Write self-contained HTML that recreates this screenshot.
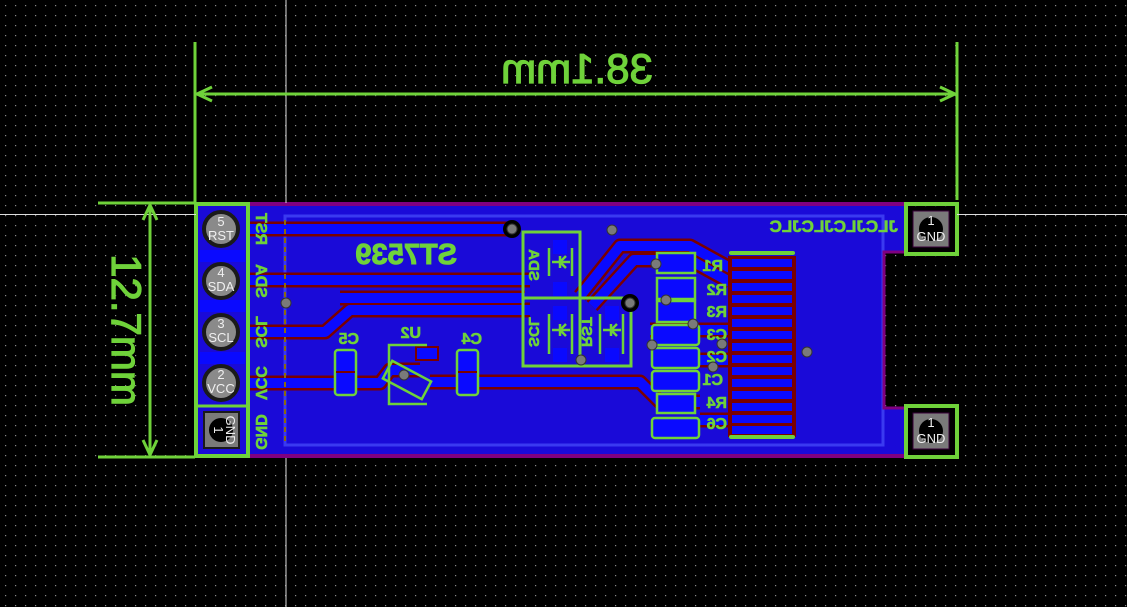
<!DOCTYPE html>
<html><head><meta charset="utf-8"><style>
html,body{margin:0;padding:0;background:#000;width:1127px;height:607px;overflow:hidden}
svg{display:block}
text{font-family:"Liberation Sans","DejaVu Sans",sans-serif}
</style></head><body>
<svg width="1127" height="607" viewBox="0 0 1127 607" xmlns="http://www.w3.org/2000/svg">
<defs>
<pattern id="g" width="10" height="10" patternUnits="userSpaceOnUse"><rect x="5" y="5" width="1.2" height="1.2" fill="#8a8a8a"/></pattern>
</defs>
<rect width="1127" height="607" fill="#000"/>
<rect width="1127" height="607" fill="url(#g)"/>

<!-- board pour -->
<rect x="196" y="206" width="710" height="248" fill="#1a0ad8"/>
<rect x="884" y="252" width="22" height="156" fill="#000"/>
<rect x="884" y="252" width="22" height="156" fill="url(#g)"/>
<rect x="285" y="216" width="598" height="229" fill="none" stroke="#3a3af0" stroke-width="3"/>
<line x1="884" y1="253" x2="884" y2="407" stroke="#8a5a10" stroke-width="3"/>
<path d="M905 252 H884 V408 H905" fill="none" stroke="#800080" stroke-width="3"/>
<line x1="248" y1="204" x2="906" y2="204" stroke="#800080" stroke-width="4"/>
<line x1="248" y1="456" x2="906" y2="456" stroke="#800080" stroke-width="4"/>

<!-- traces -->
<g fill="none" stroke-linejoin="round">
<g stroke="#7a0000" stroke-width="15">
<path d="M248 229 H512"/>
<path d="M248 280 H530"/>
<path d="M248 332 H325 L350 310 H530"/>
<path d="M340 298 H525"/>
<path d="M248 383 H380 L390 370 H420"/>
<path d="M430 382 H640 L660 402 H700"/>
<path d="M580 296 L620 246 H690 L730 268"/>
<path d="M592 306 L634 260 H690 L730 282"/>
<path d="M650 330 H730"/>
<path d="M700 360 H730"/>
<path d="M700 420 H730"/>
</g>
<g stroke="#0a0aff" stroke-width="10">
<path d="M248 229 H512"/>
<path d="M248 280 H530"/>
<path d="M248 332 H325 L350 310 H530"/>
<path d="M340 298 H525"/>
<path d="M248 383 H380 L390 370 H420"/>
<path d="M430 382 H640 L660 402 H700"/>
<path d="M580 296 L620 246 H690 L730 268"/>
<path d="M592 306 L634 260 H690 L730 282"/>
<path d="M650 330 H730"/>
<path d="M700 360 H730"/>
<path d="M700 420 H730"/>
</g>
</g>
<line x1="285" y1="220" x2="285" y2="444" stroke="#8a6a10" stroke-width="2" stroke-dasharray="5,4"/>

<!-- FPC connector pads -->
<g>
<rect x="728" y="256" width="68" height="181" fill="#7a0000"/>
<g fill="#0a0aff">
<rect x="732" y="259" width="60" height="8"/><rect x="732" y="271" width="60" height="8"/>
<rect x="732" y="283" width="60" height="8"/><rect x="732" y="295" width="60" height="8"/>
<rect x="732" y="307" width="60" height="8"/><rect x="732" y="319" width="60" height="8"/>
<rect x="732" y="331" width="60" height="8"/><rect x="732" y="343" width="60" height="8"/>
<rect x="732" y="355" width="60" height="8"/><rect x="732" y="367" width="60" height="8"/>
<rect x="732" y="379" width="60" height="8"/><rect x="732" y="391" width="60" height="8"/>
<rect x="732" y="403" width="60" height="8"/><rect x="732" y="415" width="60" height="8"/>
<rect x="732" y="426" width="60" height="8"/>
</g>
<line x1="731" y1="253" x2="793" y2="253" stroke="#6fd23a" stroke-width="4" stroke-linecap="round"/>
<line x1="731" y1="437" x2="793" y2="437" stroke="#6fd23a" stroke-width="4" stroke-linecap="round"/>
</g>

<!-- passives column -->
<g fill="#0a0aff" stroke="#6fd23a" stroke-width="2.5">
<rect x="657" y="253" width="38" height="20"/>
<rect x="657" y="278" width="38" height="21"/>
<rect x="657" y="301" width="38" height="21"/>
<rect x="652" y="325" width="47" height="20" rx="3"/>
<rect x="652" y="348" width="47" height="20" rx="3"/>
<rect x="652" y="371" width="47" height="20" rx="3"/>
<rect x="657" y="394" width="38" height="19"/>
<rect x="652" y="418" width="47" height="20" rx="3"/>
</g>
<g fill="#6fd23a" stroke="#6fd23a" stroke-width="0.6" font-weight="bold" font-size="16">
<text transform="translate(723,271) scale(-1,1)">R1</text>
<text transform="translate(727,295) scale(-1,1)">R2</text>
<text transform="translate(727,317) scale(-1,1)">R3</text>
<text transform="translate(727,340) scale(-1,1)">C3</text>
<text transform="translate(727,362) scale(-1,1)">C2</text>
<text transform="translate(723,385) scale(-1,1)">C1</text>
<text transform="translate(727,408) scale(-1,1)">R4</text>
<text transform="translate(727,429) scale(-1,1)">C6</text>
</g>

<!-- diode boxes -->
<g fill="none" stroke="#6fd23a" stroke-width="3">
<rect x="523" y="232" width="57" height="66"/>
<rect x="523" y="298" width="108" height="68"/>
<line x1="580" y1="298" x2="580" y2="366"/>
</g>
<g fill="#0a0aff">
<rect x="553" y="240" width="14" height="14"/><rect x="553" y="282" width="14" height="14"/>
<rect x="553" y="306" width="14" height="14"/><rect x="553" y="348" width="14" height="14"/>
<rect x="605" y="306" width="14" height="14"/><rect x="605" y="348" width="14" height="14"/>
</g>
<g stroke="#6fd23a" stroke-width="2.5" fill="none">
<path d="M549 248 v28 M572 248 v28 M552 262 h18 M560 256 v12 M560 262 l6 -6 M560 262 l6 6"/>
<path d="M549 314 v40 M572 314 v40 M552 330 h18 M560 324 v12 M560 330 l6 -6 M560 330 l6 6"/>
<path d="M600 314 v40 M623 314 v40 M603 330 h18 M611 324 v12 M611 330 l6 -6 M611 330 l6 6"/>
</g>
<g fill="#6fd23a" stroke="#6fd23a" stroke-width="0.6" font-weight="bold" font-size="15">
<text transform="translate(529,265) rotate(90) scale(-1,1)" text-anchor="middle">SDA</text>
<text transform="translate(529,332) rotate(90) scale(-1,1)" text-anchor="middle">SCL</text>
<text transform="translate(582,332) rotate(90) scale(-1,1)" text-anchor="middle">RST</text>
</g>

<!-- U2, C5, C4 -->
<g fill="#0a0aff" stroke="#6fd23a" stroke-width="2.5">
<rect x="335" y="350" width="21" height="45" rx="3"/>
<rect x="457" y="350" width="21" height="45" rx="3"/>
</g>
<line x1="336" y1="372" x2="355" y2="372" stroke="#7a0000" stroke-width="2"/>
<line x1="458" y1="372" x2="477" y2="372" stroke="#7a0000" stroke-width="2"/>
<rect x="416" y="347" width="22" height="13" fill="#0a0aff" stroke="#7a0000" stroke-width="2"/>
<path d="M427 345 H389 V404 H427" fill="none" stroke="#6fd23a" stroke-width="2.5"/>
<rect x="385" y="370" width="44" height="20" fill="none" stroke="#6fd23a" stroke-width="2.5" transform="rotate(28 407 380)"/>
<g fill="#6fd23a" stroke="#6fd23a" stroke-width="0.6" font-weight="bold" font-size="16">
<text transform="translate(359,344) scale(-1,1)">C5</text>
<text transform="translate(421,338) scale(-1,1)">U2</text>
<text transform="translate(482,344) scale(-1,1)">C4</text>
</g>
<text transform="translate(457,264) scale(-1,1)" fill="#6fd23a" stroke="#6fd23a" stroke-width="1" font-weight="bold" font-size="29">ST7539</text>
<text transform="translate(898,232) scale(-1,1)" fill="#6fd23a" stroke="#6fd23a" stroke-width="0.6" font-weight="bold" font-size="17">JLCJLCJLCJLC</text>

<!-- vias -->
<g>
<circle cx="512" cy="229" r="9" fill="#000"/>
<circle cx="630" cy="303" r="9" fill="#000"/>
<g fill="#7a7a7a" stroke="#333" stroke-width="1">
<circle cx="512" cy="229" r="5"/><circle cx="612" cy="230" r="5"/><circle cx="656" cy="264" r="5"/>
<circle cx="666" cy="300" r="5"/><circle cx="630" cy="303" r="5"/><circle cx="693" cy="324" r="5"/>
<circle cx="652" cy="345" r="5"/><circle cx="722" cy="344" r="5"/><circle cx="713" cy="367" r="5"/>
<circle cx="807" cy="352" r="5"/><circle cx="581" cy="360" r="5"/><circle cx="286" cy="303" r="5"/>
<circle cx="404" cy="375" r="5"/>
</g>
</g>

<!-- left connector -->
<g>
<g fill="#0a0aff"><rect x="200" y="250" width="45" height="12"/><rect x="200" y="300" width="45" height="12"/><rect x="200" y="352" width="45" height="12"/></g>
<g stroke="#1a1a1a" stroke-width="4" fill="#8a8a8a">
<circle cx="221" cy="229" r="17"/><circle cx="221" cy="281" r="17"/>
<circle cx="221" cy="332" r="17"/><circle cx="221" cy="383" r="17"/>
</g>
<rect x="204" y="412" width="35" height="36" fill="#7a7a7a" stroke="#1a1a1a" stroke-width="2"/>
<circle cx="221" cy="430" r="12" fill="#000"/>
<g fill="#f0f0f0" font-size="13" text-anchor="middle">
<text x="221" y="226">5</text><text x="221" y="240">RST</text>
<text x="221" y="277">4</text><text x="221" y="291">SDA</text>
<text x="221" y="328">3</text><text x="221" y="342">SCL</text>
<text x="221" y="379">2</text><text x="221" y="393">VCC</text>
<text transform="translate(226,430) rotate(90)">GND</text>
<text transform="translate(214,430) rotate(90)">1</text>
</g>
<rect x="196" y="204" width="52" height="252" fill="none" stroke="#6fd23a" stroke-width="4"/>
<line x1="196" y1="406" x2="248" y2="406" stroke="#6fd23a" stroke-width="3"/>
<g fill="#6fd23a" stroke="#6fd23a" stroke-width="0.6" font-weight="bold" font-size="16" text-anchor="middle">
<text transform="translate(256,229) rotate(90) scale(-1,1)">RST</text>
<text transform="translate(256,281) rotate(90) scale(-1,1)">SDA</text>
<text transform="translate(256,332) rotate(90) scale(-1,1)">SCL</text>
<text transform="translate(256,383) rotate(90) scale(-1,1)">VCC</text>
<text transform="translate(256,432) rotate(90) scale(-1,1)">GND</text>
</g>
</g>

<!-- right GND pads -->
<g>
<rect x="906" y="204" width="51" height="50" fill="none" stroke="#6fd23a" stroke-width="4"/>
<rect x="913" y="211" width="36" height="36" fill="#7a7a7a" stroke="#3a003a" stroke-width="1"/>
<circle cx="931" cy="229" r="12" fill="#000"/>
<rect x="906" y="406" width="51" height="51" fill="none" stroke="#6fd23a" stroke-width="4"/>
<rect x="913" y="413" width="36" height="36" fill="#7a7a7a" stroke="#3a003a" stroke-width="1"/>
<circle cx="931" cy="431" r="12" fill="#000"/>
<g fill="#f0f0f0" font-size="13" text-anchor="middle">
<text x="931" y="225">1</text><text x="931" y="241">GND</text>
<text x="931" y="427">1</text><text x="931" y="443">GND</text>
</g>
</g>

<!-- crosshair -->
<line x1="286" y1="0" x2="286" y2="203" stroke="#ddd" stroke-width="1"/>
<line x1="286" y1="458" x2="286" y2="607" stroke="#ddd" stroke-width="1"/>
<line x1="0" y1="214.5" x2="196" y2="214.5" stroke="#ddd" stroke-width="1"/>
<line x1="957" y1="214.5" x2="1127" y2="214.5" stroke="#ddd" stroke-width="1"/>

<!-- dimensions -->
<g stroke="#6fd23a" stroke-width="3" fill="none">
<line x1="195" y1="42" x2="195" y2="204"/>
<line x1="957" y1="42" x2="957" y2="200"/>
<line x1="197" y1="94" x2="955" y2="94"/>
<path d="M212 87 L197 94 L212 101 M940 87 L955 94 L940 101"/>
<line x1="98" y1="203" x2="195" y2="203"/>
<line x1="98" y1="457" x2="195" y2="457"/>
<line x1="150" y1="205" x2="150" y2="455"/>
<path d="M143 220 L150 205 L157 220 M143 440 L150 455 L157 440"/>
</g>
<text transform="translate(577,83) scale(-1,1)" text-anchor="middle" fill="#6fd23a" stroke="#6fd23a" stroke-width="1.2" font-size="42">38.1mm</text>
<text transform="translate(112,330) rotate(90)" text-anchor="middle" fill="#6fd23a" stroke="#6fd23a" stroke-width="1.2" font-size="42">12.7mm</text>
</svg>
</body></html>
